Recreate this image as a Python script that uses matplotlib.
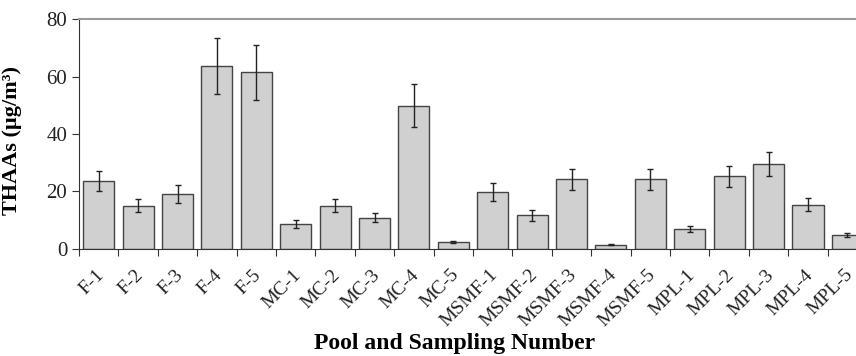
import matplotlib
matplotlib.use("Agg")
import matplotlib.pyplot as plt
import matplotlib.transforms as mtransforms

# data
samples = ["F-1", "F-2", "F-3", "F-4", "F-5",
           "MC-1", "MC-2", "MC-3", "MC-4", "MC-5",
           "MSMF-1", "MSMF-2", "MSMF-3", "MSMF-4", "MSMF-5",
           "MPL-1", "MPL-2", "MPL-3", "MPL-4", "MPL-5"]
thaas = [23.5, 15.1, 19.1, 63.7, 61.4,
         8.7, 15.1, 10.9, 49.9, 2.5,
         19.9, 11.8, 24.2, 1.5, 24.2,
         7.0, 25.3, 29.5, 15.4, 4.8]
errors = [3.5, 2.2, 3.0, 9.8, 9.4,
          1.5, 2.2, 1.5, 7.4, 0.3,
          3.2, 1.9, 3.7, 0.2, 3.7,
          1.0, 3.6, 4.2, 2.3, 0.6]
yticks = [0, 20, 40, 60, 80]

plt.rcParams['font.family'] = ['Liberation Serif', 'DejaVu Serif']

fig = plt.figure(figsize=(8.56, 3.56), dpi=100)
# the plot area runs a little past the right edge of the picture
ax = fig.add_axes([0.0923, 0.3006, 0.9206, 0.646])

x = list(range(len(samples)))
ax.bar(x, thaas, width=0.79, color="#d0d0d0", edgecolor="#444444", linewidth=1.0,
       yerr=errors, error_kw=dict(ecolor="#222222", elinewidth=1.0, capsize=2, capthick=1.0))

ax.set_xlim(-0.5, len(samples) - 0.5)
ax.set_ylim(0, 80)
ax.set_yticks(yticks)
ax.tick_params(axis='y', labelsize=15, direction='out', length=5, color="#333333",
               labelcolor="#222222")

# ticks sit on category boundaries, labels under the bars
ax.set_xticks([i - 0.5 for i in x] + [len(samples) - 0.5])
ax.set_xticklabels([])
ax.tick_params(axis='x', direction='out', length=5, color="#333333")
offset = mtransforms.ScaledTranslation(-2.5 / 72, 0, fig.dpi_scale_trans)
for i, name in enumerate(samples):
    ax.text(i, -6, name, rotation=45, ha='right', va='top', rotation_mode='anchor',
            fontsize=14, color="#222222", transform=ax.transData + offset)

ax.spines['right'].set_visible(False)
ax.spines['top'].set_color("#999999")
ax.spines['top'].set_linewidth(1.5)
ax.spines['left'].set_color("#333333")
ax.spines['bottom'].set_color("#333333")

ax.set_ylabel("THAAs (µg/m³)", fontsize=16, fontweight='bold', labelpad=6)
ax.yaxis.set_label_coords(-0.072, 0.47)
fig.text(0.5315, 0.036, "Pool and Sampling Number", fontsize=17, fontweight='bold',
         ha='center', va='center')

fig.savefig("out.png", dpi=100)
